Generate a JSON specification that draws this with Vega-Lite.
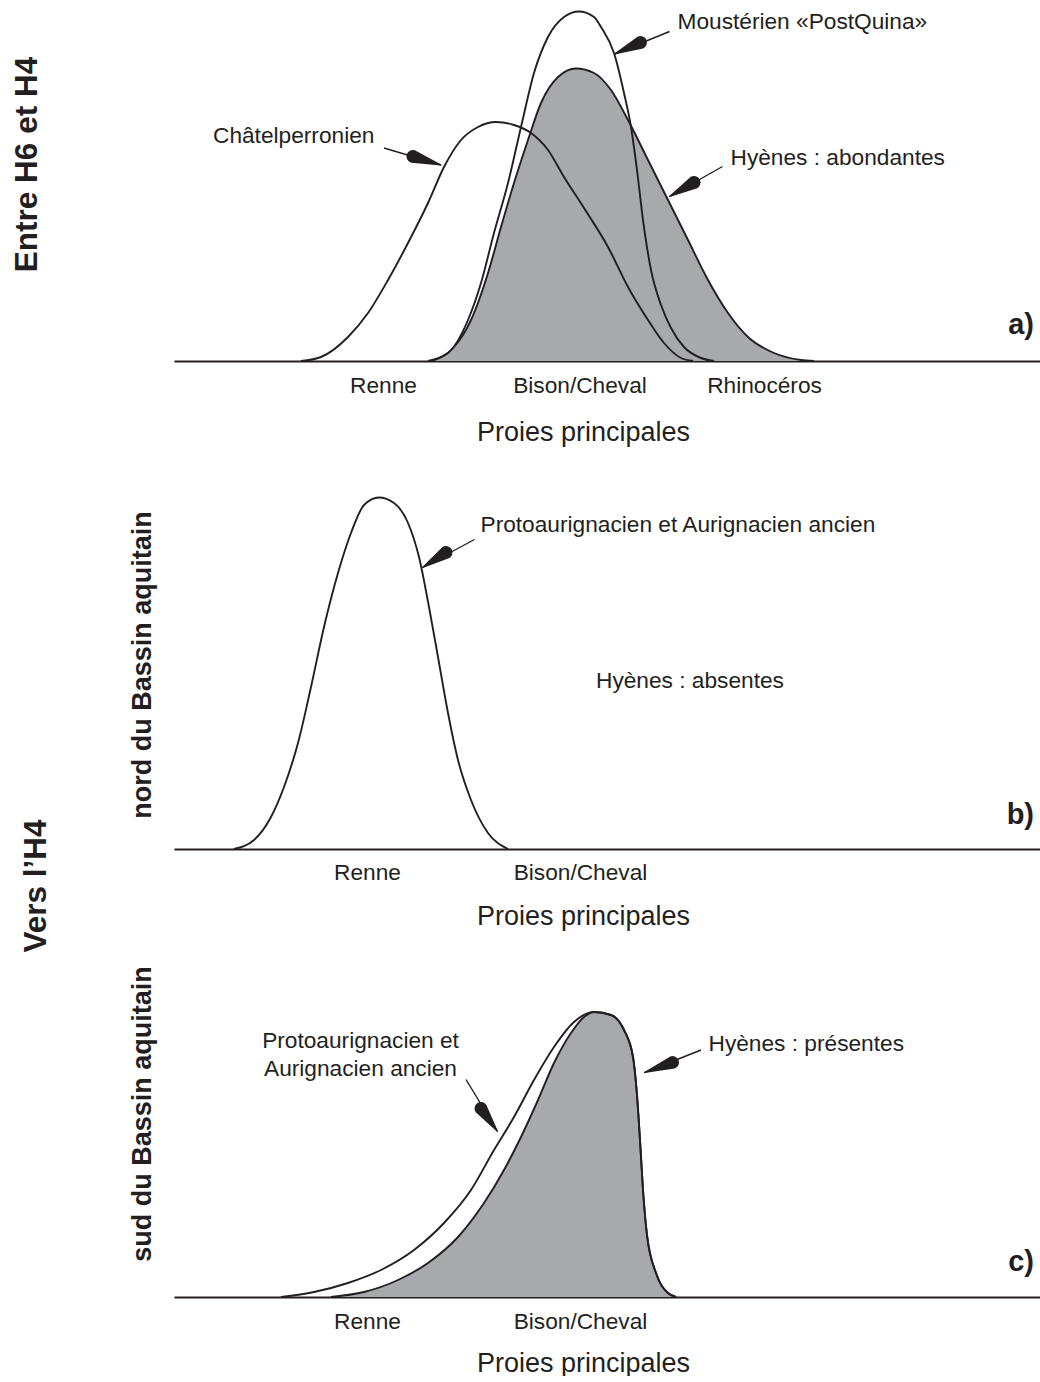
{
  "$schema": "https://vega.github.io/schema/vega-lite/v6.json",
  "background": "white",
  "autosize": {"type": "pad"},
  "padding": {"left": 11, "top": 6, "right": 0, "bottom": 0},
  "bounds": "flush",
  "spacing": 133,
  "config": {
    "view": {"stroke": null},
    "font": "Liberation Sans",
    "axisX": {
      "ticks": false, "tickSize": 0, "grid": false,
      "domainColor": "#231f20", "domainWidth": 2.2,
      "labelFontSize": 22.7, "labelColor": "#231f20", "labelBaseline": "middle", "labelAlign": "center",
      "labelFlush": false, "labelOverlap": false, "labelBound": false,
      "titleFontSize": 27, "titleFontWeight": "normal", "titleColor": "#231f20",
      "titleBaseline": "middle", "titleAlign": "center", "titleX": 409, "zindex": 1
    }
  },
  "datasets": {
    "curves": [
      {"panel": "a", "series": "Châtelperronien", "x": 25.4, "y": 0},
      {"panel": "a", "series": "Châtelperronien", "x": 29.4, "y": 0.8},
      {"panel": "a", "series": "Châtelperronien", "x": 34.8, "y": 4.8},
      {"panel": "a", "series": "Châtelperronien", "x": 38.8, "y": 9.6},
      {"panel": "a", "series": "Châtelperronien", "x": 42.8, "y": 16.2},
      {"panel": "a", "series": "Châtelperronien", "x": 46.8, "y": 23.6},
      {"panel": "a", "series": "Châtelperronien", "x": 50.8, "y": 31.6},
      {"panel": "a", "series": "Châtelperronien", "x": 54.0, "y": 38.8},
      {"panel": "a", "series": "Châtelperronien", "x": 57.4, "y": 44.2},
      {"panel": "a", "series": "Châtelperronien", "x": 60.8, "y": 46.8},
      {"panel": "a", "series": "Châtelperronien", "x": 64.4, "y": 47.8},
      {"panel": "a", "series": "Châtelperronien", "x": 68.0, "y": 47.2},
      {"panel": "a", "series": "Châtelperronien", "x": 71.4, "y": 45.6},
      {"panel": "a", "series": "Châtelperronien", "x": 74.8, "y": 42.2},
      {"panel": "a", "series": "Châtelperronien", "x": 78.0, "y": 36.8},
      {"panel": "a", "series": "Châtelperronien", "x": 82.0, "y": 30.6},
      {"panel": "a", "series": "Châtelperronien", "x": 86.8, "y": 22.8},
      {"panel": "a", "series": "Châtelperronien", "x": 90.8, "y": 14.8},
      {"panel": "a", "series": "Châtelperronien", "x": 94.8, "y": 8.2},
      {"panel": "a", "series": "Châtelperronien", "x": 98.0, "y": 3.6},
      {"panel": "a", "series": "Châtelperronien", "x": 101.4, "y": 0.6},
      {"panel": "a", "series": "Châtelperronien", "x": 103.8, "y": 0},
      {"panel": "a", "series": "Moustérien «PostQuina»", "x": 50.8, "y": 0},
      {"panel": "a", "series": "Moustérien «PostQuina»", "x": 54.8, "y": 1.6},
      {"panel": "a", "series": "Moustérien «PostQuina»", "x": 58.8, "y": 8.2},
      {"panel": "a", "series": "Moustérien «PostQuina»", "x": 61.4, "y": 15.6},
      {"panel": "a", "series": "Moustérien «PostQuina»", "x": 64.0, "y": 25.6},
      {"panel": "a", "series": "Moustérien «PostQuina»", "x": 66.8, "y": 35.6},
      {"panel": "a", "series": "Moustérien «PostQuina»", "x": 69.4, "y": 46.8},
      {"panel": "a", "series": "Moustérien «PostQuina»", "x": 72.0, "y": 57.6},
      {"panel": "a", "series": "Moustérien «PostQuina»", "x": 74.8, "y": 64.8},
      {"panel": "a", "series": "Moustérien «PostQuina»", "x": 78.0, "y": 68.8},
      {"panel": "a", "series": "Moustérien «PostQuina»", "x": 81.0, "y": 69.9},
      {"panel": "a", "series": "Moustérien «PostQuina»", "x": 84.0, "y": 68.8},
      {"panel": "a", "series": "Moustérien «PostQuina»", "x": 85.4, "y": 66.8},
      {"panel": "a", "series": "Moustérien «PostQuina»", "x": 88.0, "y": 61.6},
      {"panel": "a", "series": "Moustérien «PostQuina»", "x": 90.0, "y": 53.6},
      {"panel": "a", "series": "Moustérien «PostQuina»", "x": 91.4, "y": 46.8},
      {"panel": "a", "series": "Moustérien «PostQuina»", "x": 92.6, "y": 38.2},
      {"panel": "a", "series": "Moustérien «PostQuina»", "x": 93.8, "y": 28.2},
      {"panel": "a", "series": "Moustérien «PostQuina»", "x": 95.4, "y": 18.2},
      {"panel": "a", "series": "Moustérien «PostQuina»", "x": 97.4, "y": 11.2},
      {"panel": "a", "series": "Moustérien «PostQuina»", "x": 99.4, "y": 6.6},
      {"panel": "a", "series": "Moustérien «PostQuina»", "x": 102.0, "y": 2.8},
      {"panel": "a", "series": "Moustérien «PostQuina»", "x": 105.4, "y": 0.6},
      {"panel": "a", "series": "Moustérien «PostQuina»", "x": 108.0, "y": 0},
      {"panel": "a", "series": "Hyènes abondantes", "x": 51.4, "y": 0},
      {"panel": "a", "series": "Hyènes abondantes", "x": 56.0, "y": 2.8},
      {"panel": "a", "series": "Hyènes abondantes", "x": 59.4, "y": 8.2},
      {"panel": "a", "series": "Hyènes abondantes", "x": 62.8, "y": 17.6},
      {"panel": "a", "series": "Hyènes abondantes", "x": 65.4, "y": 26.8},
      {"panel": "a", "series": "Hyènes abondantes", "x": 68.0, "y": 35.6},
      {"panel": "a", "series": "Hyènes abondantes", "x": 70.8, "y": 44.2},
      {"panel": "a", "series": "Hyènes abondantes", "x": 73.4, "y": 51.6},
      {"panel": "a", "series": "Hyènes abondantes", "x": 76.8, "y": 56.8},
      {"panel": "a", "series": "Hyènes abondantes", "x": 80.4, "y": 58.5},
      {"panel": "a", "series": "Hyènes abondantes", "x": 84.0, "y": 57.6},
      {"panel": "a", "series": "Hyènes abondantes", "x": 87.4, "y": 54.2},
      {"panel": "a", "series": "Hyènes abondantes", "x": 90.8, "y": 48.2},
      {"panel": "a", "series": "Hyènes abondantes", "x": 94.8, "y": 40.2},
      {"panel": "a", "series": "Hyènes abondantes", "x": 98.8, "y": 32.2},
      {"panel": "a", "series": "Hyènes abondantes", "x": 102.8, "y": 24.2},
      {"panel": "a", "series": "Hyènes abondantes", "x": 106.8, "y": 16.2},
      {"panel": "a", "series": "Hyènes abondantes", "x": 110.8, "y": 9.6},
      {"panel": "a", "series": "Hyènes abondantes", "x": 114.8, "y": 4.8},
      {"panel": "a", "series": "Hyènes abondantes", "x": 120.0, "y": 1.6},
      {"panel": "a", "series": "Hyènes abondantes", "x": 125.4, "y": 0.2},
      {"panel": "a", "series": "Hyènes abondantes", "x": 128.0, "y": 0},
      {"panel": "b", "series": "Protoaurignacien et Aurignacien ancien", "x": 12.0, "y": 0},
      {"panel": "b", "series": "Protoaurignacien et Aurignacien ancien", "x": 16.0, "y": 1.8},
      {"panel": "b", "series": "Protoaurignacien et Aurignacien ancien", "x": 19.4, "y": 6.4},
      {"panel": "b", "series": "Protoaurignacien et Aurignacien ancien", "x": 22.0, "y": 12.4},
      {"panel": "b", "series": "Protoaurignacien et Aurignacien ancien", "x": 24.8, "y": 21.2},
      {"panel": "b", "series": "Protoaurignacien et Aurignacien ancien", "x": 27.4, "y": 32.4},
      {"panel": "b", "series": "Protoaurignacien et Aurignacien ancien", "x": 30.0, "y": 44.4},
      {"panel": "b", "series": "Protoaurignacien et Aurignacien ancien", "x": 32.8, "y": 55.2},
      {"panel": "b", "series": "Protoaurignacien et Aurignacien ancien", "x": 35.4, "y": 63.2},
      {"panel": "b", "series": "Protoaurignacien et Aurignacien ancien", "x": 38.0, "y": 68.8},
      {"panel": "b", "series": "Protoaurignacien et Aurignacien ancien", "x": 41.0, "y": 70.3},
      {"panel": "b", "series": "Protoaurignacien et Aurignacien ancien", "x": 44.0, "y": 69.2},
      {"panel": "b", "series": "Protoaurignacien et Aurignacien ancien", "x": 46.8, "y": 65.2},
      {"panel": "b", "series": "Protoaurignacien et Aurignacien ancien", "x": 49.0, "y": 58.4},
      {"panel": "b", "series": "Protoaurignacien et Aurignacien ancien", "x": 51.0, "y": 48.4},
      {"panel": "b", "series": "Protoaurignacien et Aurignacien ancien", "x": 52.8, "y": 38.4},
      {"panel": "b", "series": "Protoaurignacien et Aurignacien ancien", "x": 54.8, "y": 27.2},
      {"panel": "b", "series": "Protoaurignacien et Aurignacien ancien", "x": 56.8, "y": 17.8},
      {"panel": "b", "series": "Protoaurignacien et Aurignacien ancien", "x": 59.4, "y": 9.8},
      {"panel": "b", "series": "Protoaurignacien et Aurignacien ancien", "x": 62.8, "y": 3.2},
      {"panel": "b", "series": "Protoaurignacien et Aurignacien ancien", "x": 66.8, "y": 0},
      {"panel": "c", "series": "Protoaurignacien et Aurignacien ancien", "x": 21.4, "y": 0},
      {"panel": "c", "series": "Protoaurignacien et Aurignacien ancien", "x": 28.0, "y": 1.0},
      {"panel": "c", "series": "Protoaurignacien et Aurignacien ancien", "x": 34.8, "y": 2.8},
      {"panel": "c", "series": "Protoaurignacien et Aurignacien ancien", "x": 41.4, "y": 5.4},
      {"panel": "c", "series": "Protoaurignacien et Aurignacien ancien", "x": 48.0, "y": 9.4},
      {"panel": "c", "series": "Protoaurignacien et Aurignacien ancien", "x": 54.0, "y": 14.8},
      {"panel": "c", "series": "Protoaurignacien et Aurignacien ancien", "x": 59.4, "y": 21.4},
      {"panel": "c", "series": "Protoaurignacien et Aurignacien ancien", "x": 64.0, "y": 29.4},
      {"panel": "c", "series": "Protoaurignacien et Aurignacien ancien", "x": 68.0, "y": 36.0},
      {"panel": "c", "series": "Protoaurignacien et Aurignacien ancien", "x": 72.0, "y": 43.4},
      {"panel": "c", "series": "Protoaurignacien et Aurignacien ancien", "x": 76.0, "y": 50.0},
      {"panel": "c", "series": "Protoaurignacien et Aurignacien ancien", "x": 80.0, "y": 55.0},
      {"panel": "c", "series": "Protoaurignacien et Aurignacien ancien", "x": 84.0, "y": 57.0},
      {"panel": "c", "series": "Protoaurignacien et Aurignacien ancien", "x": 87.4, "y": 56.4},
      {"panel": "c", "series": "Protoaurignacien et Aurignacien ancien", "x": 90.0, "y": 53.4},
      {"panel": "c", "series": "Protoaurignacien et Aurignacien ancien", "x": 91.8, "y": 48.0},
      {"panel": "c", "series": "Protoaurignacien et Aurignacien ancien", "x": 92.6, "y": 40.4},
      {"panel": "c", "series": "Protoaurignacien et Aurignacien ancien", "x": 93.2, "y": 31.4},
      {"panel": "c", "series": "Protoaurignacien et Aurignacien ancien", "x": 93.8, "y": 21.4},
      {"panel": "c", "series": "Protoaurignacien et Aurignacien ancien", "x": 94.6, "y": 12.4},
      {"panel": "c", "series": "Protoaurignacien et Aurignacien ancien", "x": 96.4, "y": 4.8},
      {"panel": "c", "series": "Protoaurignacien et Aurignacien ancien", "x": 98.8, "y": 0.8},
      {"panel": "c", "series": "Protoaurignacien et Aurignacien ancien", "x": 100.4, "y": 0},
      {"panel": "c", "series": "Hyènes présentes", "x": 31.4, "y": 0},
      {"panel": "c", "series": "Hyènes présentes", "x": 38.0, "y": 1.0},
      {"panel": "c", "series": "Hyènes présentes", "x": 44.8, "y": 3.4},
      {"panel": "c", "series": "Hyènes présentes", "x": 50.8, "y": 6.8},
      {"panel": "c", "series": "Hyènes présentes", "x": 56.8, "y": 12.0},
      {"panel": "c", "series": "Hyènes présentes", "x": 62.0, "y": 18.8},
      {"panel": "c", "series": "Hyènes présentes", "x": 66.0, "y": 25.4},
      {"panel": "c", "series": "Hyènes présentes", "x": 69.4, "y": 32.0},
      {"panel": "c", "series": "Hyènes présentes", "x": 72.8, "y": 39.4},
      {"panel": "c", "series": "Hyènes présentes", "x": 76.0, "y": 46.8},
      {"panel": "c", "series": "Hyènes présentes", "x": 79.4, "y": 52.8},
      {"panel": "c", "series": "Hyènes présentes", "x": 82.0, "y": 56.0},
      {"panel": "c", "series": "Hyènes présentes", "x": 84.0, "y": 57.0},
      {"panel": "c", "series": "Hyènes présentes", "x": 87.4, "y": 56.4},
      {"panel": "c", "series": "Hyènes présentes", "x": 90.0, "y": 53.4},
      {"panel": "c", "series": "Hyènes présentes", "x": 91.8, "y": 48.0},
      {"panel": "c", "series": "Hyènes présentes", "x": 92.6, "y": 40.4},
      {"panel": "c", "series": "Hyènes présentes", "x": 93.2, "y": 31.4},
      {"panel": "c", "series": "Hyènes présentes", "x": 93.8, "y": 21.4},
      {"panel": "c", "series": "Hyènes présentes", "x": 94.6, "y": 12.4},
      {"panel": "c", "series": "Hyènes présentes", "x": 96.4, "y": 4.8},
      {"panel": "c", "series": "Hyènes présentes", "x": 98.8, "y": 0.8},
      {"panel": "c", "series": "Hyènes présentes", "x": 100.4, "y": 0}
    ],
    "arrows": [
      {"panel": "a", "arrow": "a1", "part": "tail", "x": 42.0, "y": 42.6},
      {"panel": "a", "arrow": "a1", "part": "base", "x": 47.8, "y": 40.9},
      {"panel": "a", "arrow": "a1", "part": "tip", "x": 53.4, "y": 39.2},
      {"panel": "a", "arrow": "a2", "part": "tail", "x": 99.1, "y": 65.9},
      {"panel": "a", "arrow": "a2", "part": "base", "x": 93.3, "y": 63.7},
      {"panel": "a", "arrow": "a2", "part": "tip", "x": 88.1, "y": 61.4},
      {"panel": "a", "arrow": "a3", "part": "tail", "x": 109.7, "y": 38.9},
      {"panel": "a", "arrow": "a3", "part": "base", "x": 104.0, "y": 35.7},
      {"panel": "a", "arrow": "a3", "part": "tip", "x": 99.1, "y": 32.9},
      {"panel": "b", "arrow": "b1", "part": "tail", "x": 60.1, "y": 61.9},
      {"panel": "b", "arrow": "b1", "part": "base", "x": 54.4, "y": 59.3},
      {"panel": "b", "arrow": "b1", "part": "tip", "x": 49.7, "y": 56.3},
      {"panel": "c", "arrow": "c1", "part": "tail", "x": 58.4, "y": 43.5},
      {"panel": "c", "arrow": "c1", "part": "base", "x": 61.4, "y": 37.7},
      {"panel": "c", "arrow": "c1", "part": "tip", "x": 64.7, "y": 33.1},
      {"panel": "c", "arrow": "c2", "part": "tail", "x": 105.4, "y": 49.4},
      {"panel": "c", "arrow": "c2", "part": "base", "x": 99.7, "y": 46.9},
      {"panel": "c", "arrow": "c2", "part": "tip", "x": 94.1, "y": 44.9}
    ],
    "labels": [
      {"panel": "a", "kind": "note", "text": "Châtelperronien", "x": 7.8, "y": 45.0},
      {"panel": "a", "kind": "note", "text": "Moustérien «PostQuina»", "x": 100.7, "y": 67.9},
      {"panel": "a", "kind": "note", "text": "Hyènes : abondantes", "x": 111.3, "y": 40.7},
      {"panel": "b", "kind": "note", "text": "Protoaurignacien et Aurignacien ancien", "x": 61.3, "y": 64.9},
      {"panel": "b", "kind": "note", "text": "Hyènes : absentes", "x": 84.4, "y": 33.6},
      {"panel": "c", "kind": "note_c", "text": "Protoaurignacien et", "x": 37.3, "y": 51.2},
      {"panel": "c", "kind": "note_c", "text": "Aurignacien ancien", "x": 37.3, "y": 45.7},
      {"panel": "c", "kind": "note", "text": "Hyènes : présentes", "x": 106.9, "y": 50.6},
      {"panel": "a", "kind": "side_big", "text": "Entre H6 et H4", "x": -27.4, "y": 39.3},
      {"panel": "b", "kind": "side_big", "text": "Vers l’H4", "x": -25.6, "y": -7.4},
      {"panel": "b", "kind": "side", "text": "nord du Bassin aquitain", "x": -4.6, "y": 36.8},
      {"panel": "c", "kind": "side", "text": "sud du Bassin aquitain", "x": -4.6, "y": 36.6},
      {"panel": "a", "kind": "letter", "text": "a)", "x": 172, "y": 5.4},
      {"panel": "b", "kind": "letter", "text": "b)", "x": 172, "y": 5.0},
      {"panel": "c", "kind": "letter", "text": "c)", "x": 172, "y": 5.2}
    ]
  },
  "vconcat": [
    {
      "width": 867, "height": 355,
      "encoding": {
        "x": {"field": "x", "type": "quantitative", "scale": {"domain": [0, 173.4], "nice": false, "zero": false},
              "axis": {"values": [41.8, 81.1, 118], "labelExpr": "datum.value < 60 ? 'Renne' : (datum.value < 100 ? 'Bison/Cheval' : 'Rhinocéros')", "title": "Proies principales", "labelPadding": 24, "titleY": 71}},
        "y": {"field": "y", "type": "quantitative", "scale": {"domain": [0, 71], "nice": false}, "axis": null}
      },
      "layer": [
        {"data": {"name": "curves"}, "transform": [{"filter": "datum.panel === 'a' && indexof(datum.series, 'Hyènes') === 0"}],
         "mark": {"type": "area", "interpolate": "monotone", "color": "#a7a9ac"}, "encoding": {"detail": {"field": "series"}}},
        {"data": {"name": "curves"}, "transform": [{"filter": "datum.panel === 'a'"}],
         "mark": {"type": "line", "interpolate": "monotone", "color": "#231f20", "strokeWidth": 1.9}, "encoding": {"detail": {"field": "series"}}},
        {"data": {"name": "arrows"}, "transform": [{"filter": "datum.panel === 'a' && datum.part !== 'base'"}],
         "mark": {"type": "line", "color": "#231f20", "strokeWidth": 1.4}, "encoding": {"detail": {"field": "arrow"}}},
        {"data": {"name": "arrows"}, "transform": [{"filter": "datum.panel === 'a' && datum.part !== 'tail'"}],
         "mark": {"type": "trail", "color": "#231f20"},
         "encoding": {"detail": {"field": "arrow"}, "size": {"field": "part", "type": "ordinal", "scale": {"type": "point", "domain": ["base", "tip"], "range": [13, 0], "padding": 0}, "legend": null}}},
        {"data": {"name": "labels"}, "transform": [{"filter": "datum.panel === 'a' && datum.kind === 'note'"}],
         "mark": {"type": "text", "align": "left", "baseline": "middle", "fontSize": 22.7, "color": "#231f20"}, "encoding": {"text": {"field": "text"}}},
        {"data": {"name": "labels"}, "transform": [{"filter": "datum.panel === 'a' && datum.kind === 'side_big'"}],
         "mark": {"type": "text", "align": "center", "baseline": "alphabetic", "angle": 270, "fontSize": 31.5, "fontWeight": "bold", "color": "#231f20"}, "encoding": {"text": {"field": "text"}}},
        {"data": {"name": "labels"}, "transform": [{"filter": "datum.panel === 'a' && datum.kind === 'letter'"}],
         "mark": {"type": "text", "align": "right", "baseline": "alphabetic", "fontSize": 29, "fontWeight": "bold", "color": "#231f20"}, "encoding": {"text": {"field": "text"}}}
      ]
    },
    {
      "width": 867, "height": 355,
      "encoding": {
        "x": {"field": "x", "type": "quantitative", "scale": {"domain": [0, 173.4], "nice": false, "zero": false},
              "axis": {"values": [38.6, 81.2], "labelExpr": "datum.value < 60 ? 'Renne' : 'Bison/Cheval'", "title": "Proies principales", "labelPadding": 23, "titleY": 67.5}},
        "y": {"field": "y", "type": "quantitative", "scale": {"domain": [0, 71], "nice": false}, "axis": null}
      },
      "layer": [
        {"data": {"name": "curves"}, "transform": [{"filter": "datum.panel === 'b'"}],
         "mark": {"type": "line", "interpolate": "monotone", "color": "#231f20", "strokeWidth": 1.9}, "encoding": {"detail": {"field": "series"}}},
        {"data": {"name": "arrows"}, "transform": [{"filter": "datum.panel === 'b' && datum.part !== 'base'"}],
         "mark": {"type": "line", "color": "#231f20", "strokeWidth": 1.4}, "encoding": {"detail": {"field": "arrow"}}},
        {"data": {"name": "arrows"}, "transform": [{"filter": "datum.panel === 'b' && datum.part !== 'tail'"}],
         "mark": {"type": "trail", "color": "#231f20"},
         "encoding": {"detail": {"field": "arrow"}, "size": {"field": "part", "type": "ordinal", "scale": {"type": "point", "domain": ["base", "tip"], "range": [13, 0], "padding": 0}, "legend": null}}},
        {"data": {"name": "labels"}, "transform": [{"filter": "datum.panel === 'b' && datum.kind === 'note'"}],
         "mark": {"type": "text", "align": "left", "baseline": "middle", "fontSize": 22.7, "color": "#231f20"}, "encoding": {"text": {"field": "text"}}},
        {"data": {"name": "labels"}, "transform": [{"filter": "datum.panel === 'b' && datum.kind === 'side_big'"}],
         "mark": {"type": "text", "align": "center", "baseline": "alphabetic", "angle": 270, "fontSize": 31.5, "fontWeight": "bold", "color": "#231f20"}, "encoding": {"text": {"field": "text"}}},
        {"data": {"name": "labels"}, "transform": [{"filter": "datum.panel === 'b' && datum.kind === 'side'"}],
         "mark": {"type": "text", "align": "center", "baseline": "alphabetic", "angle": 270, "fontSize": 27, "fontWeight": "bold", "color": "#231f20"}, "encoding": {"text": {"field": "text"}}},
        {"data": {"name": "labels"}, "transform": [{"filter": "datum.panel === 'b' && datum.kind === 'letter'"}],
         "mark": {"type": "text", "align": "right", "baseline": "alphabetic", "fontSize": 29, "fontWeight": "bold", "color": "#231f20"}, "encoding": {"text": {"field": "text"}}}
      ]
    },
    {
      "width": 867, "height": 315,
      "encoding": {
        "x": {"field": "x", "type": "quantitative", "scale": {"domain": [0, 173.4], "nice": false, "zero": false},
              "axis": {"values": [38.6, 81.2], "labelExpr": "datum.value < 60 ? 'Renne' : 'Bison/Cheval'", "title": "Proies principales", "labelPadding": 24, "titleY": 66}},
        "y": {"field": "y", "type": "quantitative", "scale": {"domain": [0, 63], "nice": false}, "axis": null}
      },
      "layer": [
        {"data": {"name": "curves"}, "transform": [{"filter": "datum.panel === 'c' && indexof(datum.series, 'Hyènes') === 0"}],
         "mark": {"type": "area", "interpolate": "monotone", "color": "#a7a9ac"}, "encoding": {"detail": {"field": "series"}}},
        {"data": {"name": "curves"}, "transform": [{"filter": "datum.panel === 'c'"}],
         "mark": {"type": "line", "interpolate": "monotone", "color": "#231f20", "strokeWidth": 1.9}, "encoding": {"detail": {"field": "series"}}},
        {"data": {"name": "arrows"}, "transform": [{"filter": "datum.panel === 'c' && datum.part !== 'base'"}],
         "mark": {"type": "line", "color": "#231f20", "strokeWidth": 1.4}, "encoding": {"detail": {"field": "arrow"}}},
        {"data": {"name": "arrows"}, "transform": [{"filter": "datum.panel === 'c' && datum.part !== 'tail'"}],
         "mark": {"type": "trail", "color": "#231f20"},
         "encoding": {"detail": {"field": "arrow"}, "size": {"field": "part", "type": "ordinal", "scale": {"type": "point", "domain": ["base", "tip"], "range": [13, 0], "padding": 0}, "legend": null}}},
        {"data": {"name": "labels"}, "transform": [{"filter": "datum.panel === 'c' && datum.kind === 'note'"}],
         "mark": {"type": "text", "align": "left", "baseline": "middle", "fontSize": 22.7, "color": "#231f20"}, "encoding": {"text": {"field": "text"}}},
        {"data": {"name": "labels"}, "transform": [{"filter": "datum.panel === 'c' && datum.kind === 'note_c'"}],
         "mark": {"type": "text", "align": "center", "baseline": "middle", "fontSize": 22.7, "color": "#231f20"}, "encoding": {"text": {"field": "text"}}},
        {"data": {"name": "labels"}, "transform": [{"filter": "datum.panel === 'c' && datum.kind === 'side'"}],
         "mark": {"type": "text", "align": "center", "baseline": "alphabetic", "angle": 270, "fontSize": 27, "fontWeight": "bold", "color": "#231f20"}, "encoding": {"text": {"field": "text"}}},
        {"data": {"name": "labels"}, "transform": [{"filter": "datum.panel === 'c' && datum.kind === 'letter'"}],
         "mark": {"type": "text", "align": "right", "baseline": "alphabetic", "fontSize": 29, "fontWeight": "bold", "color": "#231f20"}, "encoding": {"text": {"field": "text"}}}
      ]
    }
  ]
}
